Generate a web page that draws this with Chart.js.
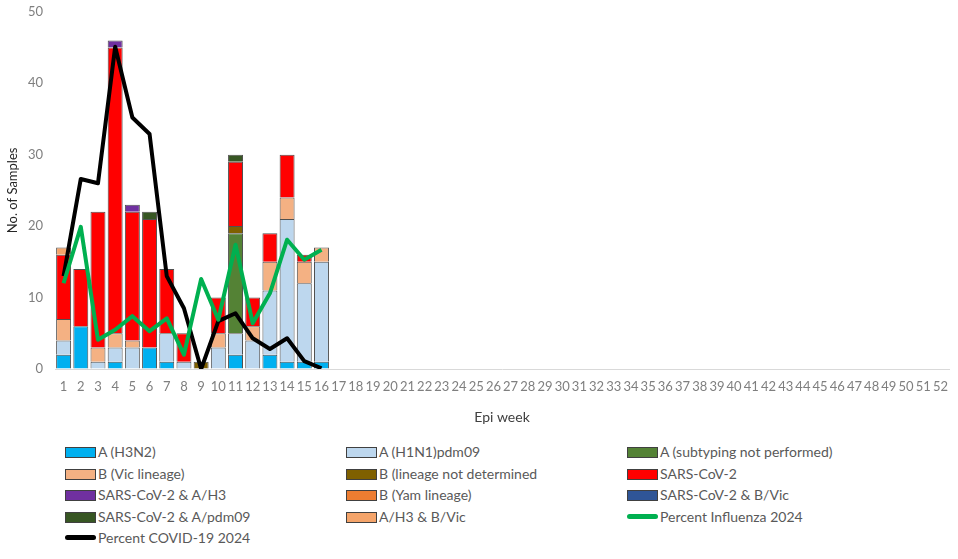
<!DOCTYPE html>
<html>
<head>
<meta charset="utf-8">
<script src="https://cdn.jsdelivr.net/npm/chart.js@4.4.1/dist/chart.umd.min.js"></script>
<style>
  body { margin: 0; background: #fff; font-family: Lato, "Open Sans", sans-serif; }
  #wrap { position: relative; width: 958px; height: 559px; }
  #legend { position: absolute; left: 0; top: 441px; width: 958px; }
  .item { position: absolute; height: 21px; line-height: 21px; font-size: 14px; color: #595959; white-space: nowrap; }
  .box { position: absolute; left: 0; top: 6px; width: 29px; height: 9px; border: 1px solid #404040; }
  .line { position: absolute; left: 0; top: 8px; width: 31px; height: 5px; border-radius: 3px; }
  .item span.txt { position: absolute; left: 33px; top: 0; }
</style>
</head>
<body>
<div id="wrap">
  <canvas id="epichart" width="958" height="430"></canvas>
  <div id="legend"></div>
</div>
<script>
'use strict';

var weeks = [];
for (var w = 1; w <= 52; w++) { weeks.push(String(w)); }

// counts per epi week (weeks 1-16 reported, rest empty)
var h3n2          = [2, 6, 0, 1, 0, 3, 1, 0, 0, 0, 2, 0, 2, 1, 1, 1];
var h1n1pdm09     = [2, 0, 1, 2, 3, 0, 4, 1, 0, 3, 3, 4, 9, 20, 11, 14];
var aNotSubtyped  = [0, 0, 0, 0, 0, 0, 0, 0, 0, 0, 14, 0, 0, 0, 0, 0];
var bVic          = [3, 0, 2, 2, 1, 0, 0, 0, 0, 2, 0, 2, 4, 3, 3, 2];
var bUndetermined = [0, 0, 0, 0, 0, 0, 0, 0, 1, 0, 1, 0, 0, 0, 0, 0];
var sarsCov2      = [9, 8, 19, 40, 18, 18, 9, 4, 0, 5, 9, 4, 4, 6, 1, 0];
var sarsH3        = [0, 0, 0, 1, 1, 0, 0, 0, 0, 0, 0, 0, 0, 0, 0, 0];
var bYam          = [0, 0, 0, 0, 0, 0, 0, 0, 0, 0, 0, 0, 0, 0, 0, 0];
var sarsBVic      = [0, 0, 0, 0, 0, 0, 0, 0, 0, 0, 0, 0, 0, 0, 0, 0];
var sarsPdm09     = [0, 0, 0, 0, 0, 1, 0, 0, 0, 0, 1, 0, 0, 0, 0, 0];
var h3BVic        = [1, 0, 0, 0, 0, 0, 0, 0, 0, 0, 0, 0, 0, 0, 0, 0];

var pctInfluenza  = [12.0, 19.9, 4.1, 5.5, 7.4, 5.3, 7.1, 2.0, 12.6, 6.9, 17.4, 6.4, 10.6, 18.1, 15.3, 16.7];
var pctCovid      = [13.0, 26.6, 26.0, 45.1, 35.2, 32.9, 13.0, 8.5, 0.0, 6.7, 7.8, 4.3, 2.8, 4.3, 1.1, 0.1];

var yTicks = [0, 10, 20, 30, 40, 50];

function bar(label, data, color) {
  return {
    type: 'bar',
    label: label,
    data: data,
    backgroundColor: color,
    borderColor: '#505050',
    borderWidth: 1,
    stack: 'samples',
    order: 2
  };
}

function line(label, data, color, stack) {
  return {
    type: 'line',
    label: label,
    data: data,
    borderColor: color,
    backgroundColor: color,
    borderWidth: 4,
    borderJoinStyle: 'round',
    pointRadius: 0,
    tension: 0,
    fill: false,
    stack: stack,
    order: 1
  };
}

var ctx = document.getElementById('epichart');
var chart = new Chart(ctx, {
  data: {
    labels: weeks,
    datasets: [
      bar('A (H3N2)', h3n2, '#00B0F0'),
      bar('A (H1N1)pdm09', h1n1pdm09, '#BDD7EE'),
      bar('A (subtyping not performed)', aNotSubtyped, '#548235'),
      bar('B (Vic lineage)', bVic, '#F4B183'),
      bar('B (lineage not determined', bUndetermined, '#7F6000'),
      bar('SARS-CoV-2', sarsCov2, '#FF0000'),
      bar('SARS-CoV-2 & A/H3', sarsH3, '#7030A0'),
      bar('B (Yam lineage)', bYam, '#ED7D31'),
      bar('SARS-CoV-2 & B/Vic', sarsBVic, '#2F5597'),
      bar('SARS-CoV-2 & A/pdm09', sarsPdm09, '#375623'),
      bar('A/H3 & B/Vic', h3BVic, '#F4A46A'),
      line('Percent Influenza 2024', pctInfluenza, '#00B050', 'flu'),
      line('Percent COVID-19 2024', pctCovid, '#000000', 'covid')
    ]
  },
  options: {
    responsive: false,
    animation: false,
    layout: { padding: { top: 0, right: 3, left: 0, bottom: 0 } },
    datasets: {
      bar: { barPercentage: 0.87, categoryPercentage: 1 }
    },
    plugins: {
      legend: { display: false },
      tooltip: { enabled: false }
    },
    scales: {
      x: {
        stacked: true,
        grid: { display: false, drawTicks: false },
        border: { color: '#d9d9d9' },
        ticks: {
          autoSkip: false, maxRotation: 0, padding: 10,
          color: '#7f7f7f', font: { family: 'Lato', size: 13 }
        },
        title: {
          display: true, text: 'Epi week', color: '#404040',
          font: { family: 'Lato', size: 14 }, padding: { top: 4, bottom: 4 }
        },
        afterFit: function (s) { s.height = 61; }
      },
      y: {
        stacked: true,
        min: 0,
        max: 50,
        afterBuildTicks: function (s) { s.ticks = yTicks.map(function (v) { return { value: v }; }); },
        grid: { drawOnChartArea: false, drawTicks: true, tickLength: 8, color: 'rgba(0,0,0,0)' },
        border: { display: false },
        ticks: { padding: 4, color: '#7f7f7f', font: { family: 'Lato', size: 13 } },
        title: {
          display: true, text: 'No. of Samples', color: '#262626',
          font: { family: 'Lato', size: 13 }, padding: { top: 5, bottom: 0 }
        },
        afterFit: function (s) { s.width = 55; }
      }
    }
  }
});

// legend in three columns like the original
var legend = document.getElementById('legend');
var colX = [65, 346, 627];
chart.data.datasets.forEach(function (ds, i) {
  var item = document.createElement('div');
  item.className = 'item';
  item.style.left = colX[i % 3] + 'px';
  item.style.top = (Math.floor(i / 3) * 21.5) + 'px';
  var sw = document.createElement('div');
  if (ds.type === 'line') {
    sw.className = 'line';
    sw.style.background = ds.borderColor;
  } else {
    sw.className = 'box';
    sw.style.background = ds.backgroundColor;
  }
  var txt = document.createElement('span');
  txt.className = 'txt';
  txt.textContent = ds.label;
  item.appendChild(sw);
  item.appendChild(txt);
  legend.appendChild(item);
});
</script>
</body>
</html>
